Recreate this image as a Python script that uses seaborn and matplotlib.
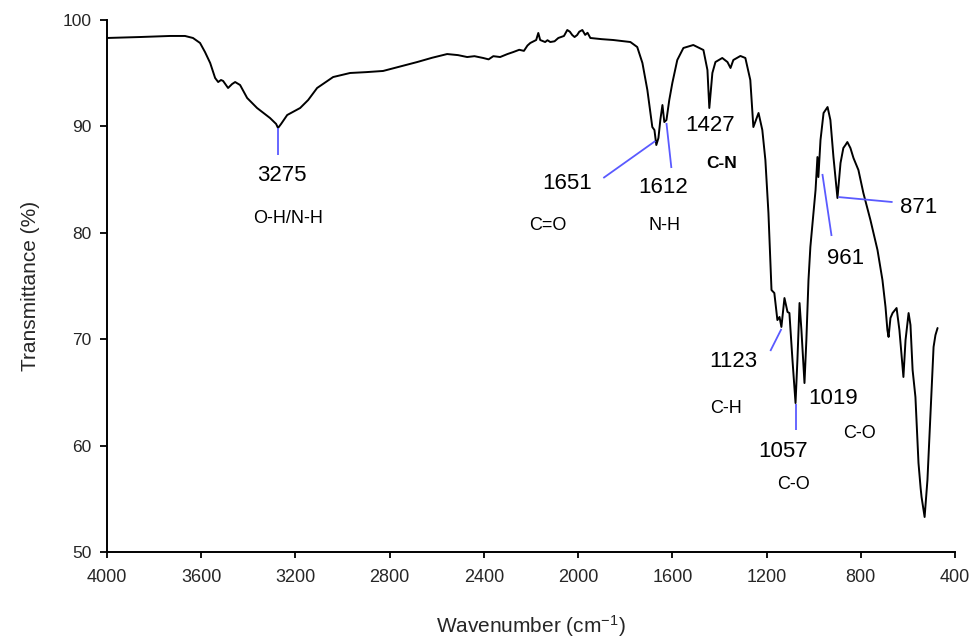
import matplotlib
matplotlib.use("Agg")
import matplotlib.pyplot as plt
import seaborn as sns
import numpy as np
import pandas as pd

# ---- data ----
wavenumber = [4000, 3860, 3732, 3669, 3635, 3605, 3584, 3562, 3541, 3528, 3516, 3507,
              3486, 3469, 3456, 3435, 3405, 3363, 3308, 3282, 3274, 3261, 3235, 3180,
              3146, 3108, 3040, 2968, 2900, 2828, 2760, 2683, 2620, 2556, 2510, 2471,
              2440, 2403, 2380, 2360, 2331, 2300, 2275, 2250, 2230, 2215, 2203,
              2178, 2169, 2161, 2140, 2130, 2118, 2100, 2084, 2060, 2046, 2035, 2025,
              2015, 2004, 1995, 1982, 1970, 1960, 1948, 1900, 1851,
              1778, 1749, 1727, 1706, 1693, 1685, 1676, 1668, 1659, 1651, 1642, 1634,
              1625, 1613, 1600, 1579, 1553, 1511, 1468, 1451, 1443, 1430, 1417, 1388,
              1366, 1353, 1341, 1311, 1290, 1269, 1256, 1234, 1218, 1205, 1192, 1179,
              1167, 1154, 1145, 1137, 1124, 1111, 1103, 1090, 1077, 1069, 1060, 1052,
              1039, 1031, 1022, 1014, 992, 984, 980, 971, 958, 941, 929, 916, 899, 886,
              874, 865, 857, 844, 831, 810, 789, 759, 729, 708, 695, 687, 682, 674, 665,
              648, 636, 619, 610, 597, 589, 580, 568, 555, 546, 542, 529, 517, 504, 491,
              483, 474]
transmittance = [98.31, 98.40, 98.50, 98.50, 98.31, 97.84, 96.99, 95.96, 94.55, 94.17,
                 94.36, 94.27, 93.61, 93.98, 94.17, 93.89, 92.67, 91.73, 90.79, 90.23,
                 89.85, 90.23, 91.07, 91.73, 92.48, 93.61, 94.64, 95.02, 95.10, 95.21,
                 95.60, 96.05, 96.45, 96.80, 96.70, 96.52, 96.60, 96.43, 96.30, 96.60,
                 96.52, 96.80, 96.99, 97.20, 97.10, 97.60, 97.84, 98.12, 98.78, 98.12,
                 97.93, 98.10, 97.93, 98.00, 98.31, 98.50, 99.06, 98.90, 98.59, 98.40,
                 98.59, 98.90, 99.06, 98.60, 98.80, 98.31, 98.20, 98.12,
                 97.93, 97.46,
                 95.96, 93.42, 91.26, 89.94, 89.66, 88.25, 88.91, 90.60, 92.01, 90.41,
                 90.60, 92.48, 94.08, 96.24, 97.37, 97.65, 97.18, 95.30, 91.73, 95.02,
                 96.05, 96.43, 96.05, 95.49, 96.24, 96.62, 96.43, 94.36, 89.94, 91.26,
                 89.66, 86.84, 81.86, 74.62, 74.34, 71.80, 72.09, 71.15, 73.87, 72.56,
                 72.46, 68.05, 64.00, 68.05, 73.40, 70.86, 65.88, 69.92, 75.56, 78.67,
                 84.02, 87.12, 85.24, 88.72, 91.26, 91.82, 90.60, 87.12, 83.27, 86.56,
                 87.97, 88.25, 88.53, 87.97, 87.03, 85.90, 83.74, 81.20, 78.38, 75.56,
                 73.03, 70.86, 70.21, 71.99, 72.46, 72.93, 70.86, 66.45, 69.92, 72.46,
                 71.33, 67.11, 64.57, 58.36, 56.02, 55.17, 53.29, 56.77, 63.06, 69.27,
                 70.39, 71.05]

# peak labels
peak_labels = ["3275", "1651", "1612", "1427", "961", "871", "1123", "1057", "1019"]
peak_label_x = [3257, 2046, 1638, 1438, 865, 555, 1341, 1128, 916]
peak_label_y = [85.34, 84.68, 84.30, 90.04, 77.63, 82.42, 67.86, 59.40, 64.47]

group_labels = ["O-H/N-H", "C=O", "N-H", "C-N", "C-H", "C-O", "C-O"]
group_label_x = [3231, 2127, 1634, 1392, 1371, 1086, 806]
group_label_y = [81.39, 80.64, 80.64, 86.56, 63.44, 56.30, 61.18]
group_bold = [False, False, False, True, False, False, False]

# leader lines (x0, x1), (y0, y1)
leader_x = [(3274, 3274), (1672, 1893), (1625, 1604), (963, 924), (895, 665),
            (1137, 1184), (1073, 1073)]
leader_y = [(89.85, 87.31), (88.63, 85.15), (90.32, 86.09), (85.53, 79.70),
            (83.36, 82.89), (70.96, 68.89), (63.91, 61.47)]

x_ticks = [4000, 3600, 3200, 2800, 2400, 2000, 1600, 1200, 800, 400]
y_ticks = [50, 60, 70, 80, 90, 100]

# ---- plotting ----
sns.set_style("ticks")
plt.rcParams["font.family"] = ["Liberation Sans", "DejaVu Sans"]
plt.rcParams["mathtext.default"] = "regular"

fig = plt.figure(figsize=(9.70, 6.41), dpi=100)
ax = fig.add_axes([107 / 970, 1 - 552 / 641, (955 - 107) / 970, (552 - 20) / 641])

df = pd.DataFrame({"wn": wavenumber, "T": transmittance})
sns.lineplot(data=df, x="wn", y="T", sort=False, estimator=None, color="black",
             linewidth=1.4, ax=ax)

line_color = "#5a5aff"
for xs, ys in zip(leader_x, leader_y):
    ax.plot(xs, ys, color=line_color, linewidth=1.3, solid_capstyle="butt")

for t, x, y in zip(peak_labels, peak_label_x, peak_label_y):
    ax.text(x, y, t, fontsize=16, ha="center", va="center", color="black")

for t, x, y, b in zip(group_labels, group_label_x, group_label_y, group_bold):
    ax.text(x, y, t, fontsize=13 if not b else 12.5, ha="center", va="center",
            color="black", fontweight="bold" if b else "normal")

ax.set_xlim(4000, 400)
ax.set_ylim(50, 100)
ax.set_xticks(x_ticks)
ax.set_yticks(y_ticks)
ax.tick_params(axis="x", labelsize=13, length=4, width=1.3, pad=8, color="black")
ax.tick_params(axis="y", labelsize=12.5, length=5, width=1.3, pad=6, color="black")
for s in ["top", "right"]:
    ax.spines[s].set_visible(False)
for s in ["left", "bottom"]:
    ax.spines[s].set_linewidth(1.4)
    ax.spines[s].set_color("black")

ax.set_xlabel("Wavenumber (cm$^{-1}$)", fontsize=15, labelpad=20)
ax.set_ylabel("Transmittance (%)", fontsize=15, labelpad=16)

fig.savefig("out.png", dpi=100)
